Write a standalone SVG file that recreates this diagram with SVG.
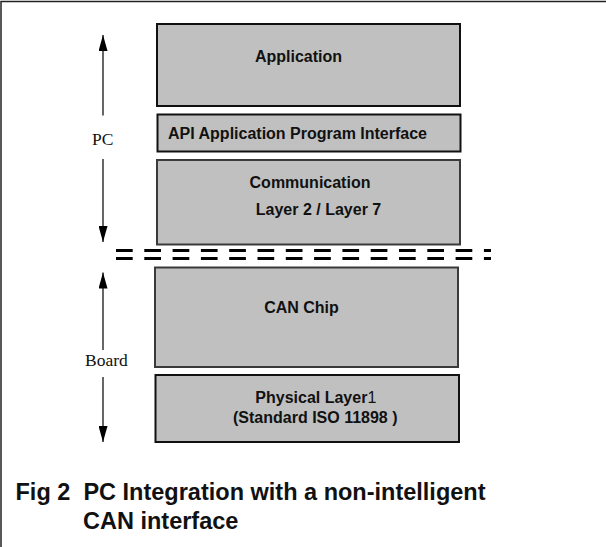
<svg xmlns="http://www.w3.org/2000/svg" width="606" height="547" viewBox="0 0 606 547">
  <style>
    .box { fill: #c0c0c0; stroke: #111; stroke-width: 2; }
    .box.soft { stroke: #3a3a3a; }
    .lbl { font-family: "Liberation Sans", Arial, sans-serif; font-weight: bold; font-size: 16px; fill: #111; }
    .side { font-family: "Liberation Serif", "Times New Roman", serif; font-size: 17.5px; fill: #111; }
    .title { font-family: "Liberation Sans", Arial, sans-serif; font-weight: bold; font-size: 23.5px; fill: #111; white-space: pre; }
    .arrow { stroke: #000; stroke-width: 1.2; fill: none; marker-end: url(#head); }
    .split { stroke: #000; stroke-width: 3; stroke-dasharray: 16.7 11.6; fill: none; }
  </style>
  <defs>
    <marker id="head" markerUnits="userSpaceOnUse" markerWidth="16" markerHeight="9" refX="16" refY="4.5" orient="auto">
      <path d="M0,0 L16,4.5 L0,9 Z" fill="#000"/>
    </marker>
  </defs>

  <!-- page frame (top and left edges) -->
  <path d="M1,606 V1.5 H606" fill="none" stroke="#222" stroke-width="1.5"/>

  <!-- PC layer stack -->
  <g id="application">
    <rect class="box" x="157" y="24" width="303" height="82"/>
    <text class="lbl" x="298.5" y="62" text-anchor="middle">Application</text>
  </g>
  <g id="api">
    <rect class="box" x="157.5" y="114.5" width="303" height="37"/>
    <text class="lbl" x="168" y="139">API Application Program Interface</text>
  </g>
  <g id="communication">
    <rect class="box soft" x="157" y="160" width="303" height="84.5"/>
    <text class="lbl" x="310" y="187.5" text-anchor="middle">Communication</text>
    <text class="lbl" x="318.5" y="214.5" text-anchor="middle">Layer 2 / Layer 7</text>
  </g>

  <!-- board layer stack -->
  <g id="can-chip">
    <rect class="box soft" x="155" y="267.5" width="303" height="99.5"/>
    <text class="lbl" x="301.5" y="312.5" text-anchor="middle">CAN Chip</text>
  </g>
  <g id="physical">
    <rect class="box" x="155.5" y="375" width="303.5" height="67"/>
    <text class="lbl" x="315.8" y="402.7" text-anchor="middle">Physical Layer<tspan font-weight="normal">1</tspan></text>
    <text class="lbl" x="315.3" y="423.3" text-anchor="middle">(Standard ISO 11898 )</text>
  </g>

  <!-- PC / board boundary -->
  <g id="boundary">
    <path class="split" d="M116,250.5 H491"/>
    <path class="split" d="M116,258.5 H491"/>
  </g>

  <!-- extent arrows -->
  <g id="connectors">
    <path class="arrow" d="M103,115.5 V35"/>
    <path class="arrow" d="M103,159 V242"/>
    <path class="arrow" d="M103,350 V272.5"/>
    <path class="arrow" d="M103,377 V442"/>
  </g>
  <g id="side-labels">
    <text class="side" x="92" y="145">PC</text>
    <text class="side" x="85" y="365.7">Board</text>
  </g>

  <g id="caption">
    <text class="title" x="15.5" y="500">Fig 2  PC Integration with a non-intelligent</text>
    <text class="title" x="83" y="528.5">CAN interface</text>
  </g>
</svg>
